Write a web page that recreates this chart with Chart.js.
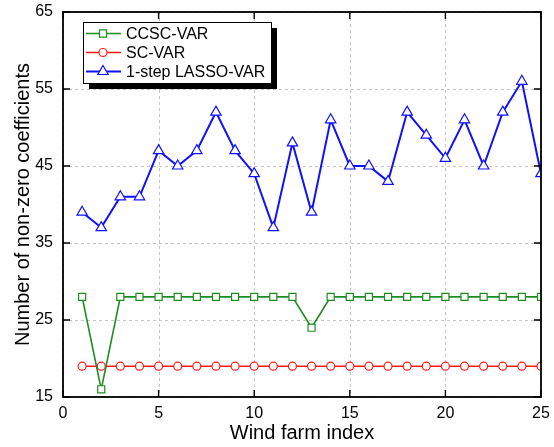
<!DOCTYPE html>
<html>
<head>
<meta charset="utf-8">
<script src="https://cdn.jsdelivr.net/npm/chart.js@4.4.1/dist/chart.umd.min.js"></script>
<style>
  html, body { margin: 0; padding: 0; background: #fff; }
  #wrap { width: 554px; height: 447px; }
</style>
</head>
<body>
<div id="wrap"><canvas id="chart" width="554" height="447"></canvas></div>
<script>
// wind farm indices 1..25
let farms = [1, 2, 3, 4, 5, 6, 7, 8, 9, 10, 11, 12, 13, 14, 15, 16, 17, 18, 19, 20, 21, 22, 23, 24, 25];
let ccscVar = [28, 16, 28, 28, 28, 28, 28, 28, 28, 28, 28, 28, 24, 28, 28, 28, 28, 28, 28, 28, 28, 28, 28, 28, 28];
let scVar = [19, 19, 19, 19, 19, 19, 19, 19, 19, 19, 19, 19, 19, 19, 19, 19, 19, 19, 19, 19, 19, 19, 19, 19, 19];
let lassoVar = [39, 37, 41, 41, 47, 45, 47, 52, 47, 44, 37, 48, 39, 51, 45, 45, 43, 52, 49, 46, 51, 45, 52, 56, 44];
let xTicks = [0, 5, 10, 15, 20, 25];
let yTicks = [15, 25, 35, 45, 55, 65];

const FONT = 'Liberation Sans, Arial, Helvetica, sans-serif';

function pts(vals) {
    return farms.map((f, i) => ({ x: f, y: vals[i] }));
}

let datasets = [
    { label: 'CCSC-VAR', data: pts(ccscVar), borderColor: '#1e8c1e', backgroundColor: '#ffffff',
      pointStyle: 'rect', pointRadius: 5, borderWidth: 1.6, pointBorderWidth: 1.2 },
    { label: 'SC-VAR', data: pts(scVar), borderColor: '#ff1a1a', backgroundColor: '#ffffff',
      pointStyle: 'circle', pointRadius: 4, borderWidth: 1.6, pointBorderWidth: 1.2 },
    { label: '1-step LASSO-VAR', data: pts(lassoVar), borderColor: '#1010ff', backgroundColor: '#ffffff',
      pointStyle: 'triangle', pointRadius: 6, borderWidth: 2, pointBorderWidth: 1.2 }
];

// dashed grid under the data
let gridPlugin = {
    id: 'dashgrid',
    beforeDatasetsDraw(chart) {
        let c = chart.ctx, a = chart.chartArea;
        let xs = chart.scales.x, ys = chart.scales.y;
        c.save();
        c.strokeStyle = '#c4c4c4';
        c.lineWidth = 1;
        c.setLineDash([3, 3]);
        c.beginPath();
        xTicks.forEach(v => {
            let px = Math.round(xs.getPixelForValue(v)) + 0.5;
            c.moveTo(px, a.top); c.lineTo(px, a.bottom);
        });
        yTicks.forEach(v => {
            let py = Math.round(ys.getPixelForValue(v)) + 0.5;
            c.moveTo(a.left, py); c.lineTo(a.right, py);
        });
        c.stroke();
        c.restore();
    }
};

// frame, inward ticks and the legend box with drop shadow
let framePlugin = {
    id: 'frame',
    afterDraw(chart) {
        let c = chart.ctx, a = chart.chartArea;
        let xs = chart.scales.x, ys = chart.scales.y;
        c.save();
        c.strokeStyle = '#000';
        c.lineWidth = 1.8;
        c.strokeRect(a.left, a.top, a.right - a.left, a.bottom - a.top);
        c.lineWidth = 1.4;
        c.beginPath();
        xTicks.forEach(v => {
            let px = xs.getPixelForValue(v);
            c.moveTo(px, a.bottom); c.lineTo(px, a.bottom - 7);
            c.moveTo(px, a.top); c.lineTo(px, a.top + 7);
        });
        yTicks.forEach(v => {
            let py = ys.getPixelForValue(v);
            c.moveTo(a.left, py); c.lineTo(a.left + 7, py);
            c.moveTo(a.right, py); c.lineTo(a.right - 7, py);
        });
        c.stroke();

        // legend
        let lx = 83, ly = 22, lw = 188, lh = 61;
        c.fillStyle = '#000';
        c.fillRect(lx + 6, ly + 6, lw, lh);
        c.fillStyle = '#fff';
        c.fillRect(lx, ly, lw, lh);
        c.lineWidth = 1;
        c.strokeStyle = '#000';
        c.strokeRect(lx + 0.5, ly + 0.5, lw, lh);
        let rows = [33.5, 52.5, 71.5];
        c.font = '16px ' + FONT;
        c.textBaseline = 'middle';
        chart.data.datasets.forEach((ds, i) => {
            let y = rows[i];
            c.strokeStyle = ds.borderColor;
            c.lineWidth = ds.borderWidth;
            c.beginPath();
            c.moveTo(86, y); c.lineTo(121, y);
            c.stroke();
            c.lineWidth = ds.pointBorderWidth;
            c.fillStyle = '#fff';
            Chart.helpers.drawPoint(c, { pointStyle: ds.pointStyle, radius: ds.pointRadius, borderWidth: ds.pointBorderWidth }, 103, y);
            c.fillStyle = '#000';
            c.fillText(ds.label, 126, y + 1);
        });
        c.restore();
    }
};

let config = {
    type: 'line',
    data: { datasets: datasets },
    options: {
        responsive: false,
        animation: false,
        layout: { padding: { top: 12, right: 13, left: 0, bottom: 0 } },
        plugins: { legend: { display: false }, tooltip: { enabled: false } },
        scales: {
            x: {
                type: 'linear', min: 0, max: 25,
                afterFit: s => { s.height = 50; s.paddingLeft = 0; s.paddingRight = 0; },
                afterBuildTicks: s => { s.ticks = xTicks.map(v => ({ value: v })); },
                ticks: { color: '#000', font: { family: FONT, size: 16 }, padding: 7 },
                grid: { display: false, drawTicks: false },
                border: { display: false },
                title: { display: true, text: 'Wind farm index', color: '#000',
                         font: { family: FONT, size: 20 }, padding: { top: 0, bottom: 2 } }
            },
            y: {
                type: 'linear', min: 15, max: 65,
                afterFit: s => { s.width = 63; s.paddingTop = 0; s.paddingBottom = 0; },
                afterBuildTicks: s => { s.ticks = yTicks.map(v => ({ value: v })); },
                ticks: { color: '#000', font: { family: FONT, size: 16 }, padding: 10 },
                grid: { display: false, drawTicks: false },
                border: { display: false },
                title: { display: true, text: 'Number of non-zero coefficients', color: '#000',
                         font: { family: FONT, size: 20 }, padding: { top: 11, bottom: 0 } }
            }
        }
    },
    plugins: [gridPlugin, framePlugin]
};

let ctx = document.getElementById('chart');
let chart = new Chart(ctx, config);
</script>
</body>
</html>
